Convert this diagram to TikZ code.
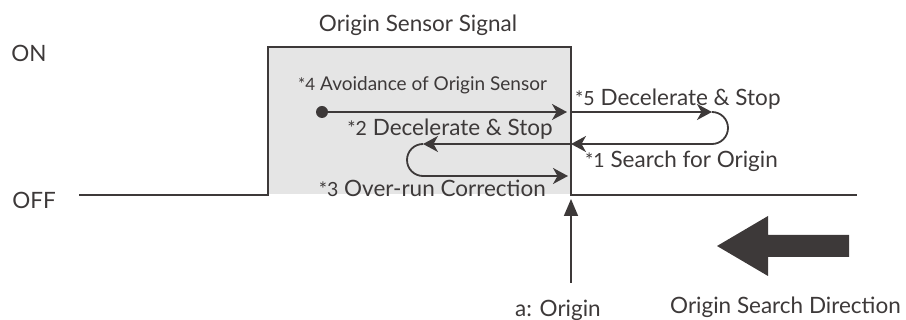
\documentclass[tikz,border=0pt]{standalone}
\usepackage{fontspec}
\setmainfont{Lato}
\usetikzlibrary{arrows.meta}
\definecolor{ink}{HTML}{3D3939}
\definecolor{fillg}{HTML}{E5E5E5}
\tikzset{
  sig/.style={draw=ink, line width=2.6pt, line join=miter},
  flow/.style={draw=ink, line width=1.8pt, -{Stealth[length=15pt,width=16pt,inset=4.5pt]}},
  lbl/.style={text=ink, font=\fontsize{22.5}{26}\selectfont, inner sep=0pt},
  slbl/.style={text=ink, font=\fontsize{19}{22}\selectfont, inner sep=0pt},
}
\newcommand{\st}[1]{{\fontsize{19.5}{19.5}\selectfont *#1}}
\newcommand{\sst}[1]{{\fontsize{17}{17}\selectfont *#1}}
\begin{document}
\begin{tikzpicture}[x=1pt,y=-1pt]
\useasboundingbox (0,0) rectangle (906,320);
% gray fill
\fill[fillg] (268,47) rectangle (571,194);
% signal
\coordinate (s0) at (79,195);
\coordinate (s1) at (268,195);
\coordinate (s2) at (268,47);
\coordinate (s3) at (571,47);
\coordinate (s4) at (571,195);
\coordinate (s5) at (857,195);
\draw[sig] (s0) -- (s1) -- (s2) -- (s3) -- (s4) -- (s5);
% labels
\node[lbl] (on) at (29,53) {ON};
\node[lbl] (off) at (34,200) {OFF};
\node[lbl] (title) at (418,25) {Origin Sensor Signal};
% flows
\coordinate (d0) at (322,112);
\coordinate (e1) at (571,112);
\coordinate (t1) at (712,112);
\coordinate (e2) at (571,144);
\coordinate (t3) at (423,144);
\coordinate (e3) at (571,176);
\fill[ink] (d0) circle (6);
\draw[flow, shorten >=4pt] (d0) -- (e1);
\draw[flow] (e1) -- (t1);
\draw[flow] (t1) arc[start angle=-90,end angle=90,radius=16] -- (e2);
\draw[flow] (e2) -- (t3);
\draw[flow, shorten >=3pt] (t3) arc[start angle=-90,end angle=-270,radius=16] -- (e3);
\node[slbl, anchor=base west] (n4) at (298,91) {\sst{4} Avoidance of Origin Sensor};
\node[lbl, anchor=base west] (n5) at (575,106) {\st{5} Decelerate \& Stop};
\node[lbl, anchor=base west] (n1) at (585,168) {\st{1} Search for Origin};
\node[lbl, anchor=base east] (n2) at (553,136) {\st{2} Decelerate \& Stop};
\node[lbl, anchor=base east] (n3) at (546,197) {\st{3} Over-run Correction};
% origin arrow
\coordinate (o0) at (571,283);
\coordinate (o1) at (571,199);
\draw[draw=ink, line width=1.6pt, -{Triangle[length=17pt,width=14pt]}] (o0) -- (o1);
\node[lbl] (orig) at (558,310) {a: Origin};
% big arrow
\fill[ink] (717,246) -- (768,216) -- (768,235) -- (849,235) -- (849,257) -- (768,257) -- (768,276) -- cycle;
\node[lbl, anchor=west] (dir) at (670,307) {Origin Search Direction};
\end{tikzpicture}
\end{document}
